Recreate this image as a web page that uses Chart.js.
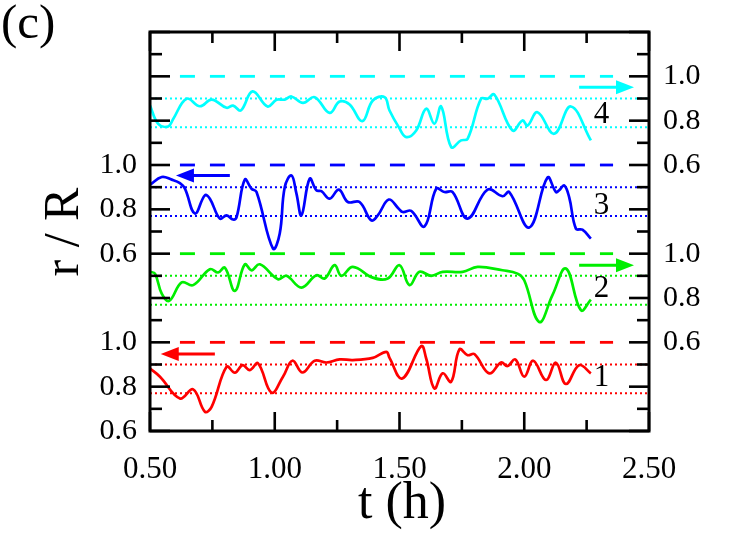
<!DOCTYPE html>
<html><head><meta charset="utf-8">
<script src="https://cdn.jsdelivr.net/npm/chart.js@4.4.0/dist/chart.umd.min.js"></script>
<style>html,body{margin:0;padding:0;background:#fff;}canvas{display:block;}</style>
</head><body>
<canvas id="c" width="740" height="542"></canvas>
<script>
// ---- data (t in hours, r/R values) ----
const redT = [0.500,0.540,0.620,0.673,0.720,0.747,0.807,0.840,0.871,0.900,0.933,0.987,1.033,1.071,1.111,1.160,1.207,1.260,1.313,1.393,1.447,1.460,1.511,1.587,1.607,1.640,1.673,1.707,1.740,1.773,1.800,1.860,1.907,1.933,1.964,2.000,2.036,2.087,2.127,2.167,2.220,2.267];
const redV = [0.882,0.845,0.747,0.788,0.687,0.709,0.890,0.863,0.897,0.875,0.905,0.773,0.845,0.917,0.864,0.917,0.909,0.923,0.920,0.930,0.957,0.930,0.837,0.983,0.927,0.792,0.860,0.822,0.968,0.942,0.947,0.860,0.909,0.893,0.923,0.845,0.917,0.830,0.908,0.812,0.897,0.860];

const greenT = [0.500,0.520,0.547,0.577,0.627,0.673,0.740,0.773,0.800,0.840,0.880,0.907,0.940,1.013,1.047,1.107,1.167,1.200,1.240,1.267,1.313,1.393,1.453,1.500,1.540,1.580,1.627,1.673,1.753,1.813,1.913,1.973,2.000,2.060,2.113,2.167,2.227,2.267];
const greenV = [0.918,0.910,0.820,0.787,0.870,0.858,0.930,0.915,0.937,0.832,0.952,0.925,0.952,0.885,0.900,0.847,0.903,0.888,0.948,0.900,0.940,0.892,0.888,0.948,0.858,0.918,0.900,0.918,0.918,0.940,0.925,0.910,0.880,0.692,0.813,0.933,0.745,0.793];

const blueT = [0.500,0.547,0.587,0.620,0.640,0.680,0.720,0.740,0.780,0.807,0.833,0.847,0.880,0.907,0.927,0.993,1.020,1.040,1.067,1.087,1.107,1.140,1.167,1.187,1.220,1.257,1.293,1.340,1.387,1.413,1.457,1.497,1.513,1.547,1.600,1.647,1.680,1.713,1.773,1.853,1.913,1.940,2.020,2.093,2.127,2.140,2.160,2.180,2.207,2.233,2.267];
const blueV = [0.911,0.946,0.934,0.918,0.893,0.781,0.863,0.848,0.758,0.773,0.754,0.765,0.934,0.893,0.878,0.623,0.691,0.900,0.953,0.871,0.773,0.938,0.886,0.882,0.848,0.889,0.833,0.833,0.750,0.773,0.844,0.803,0.788,0.793,0.723,0.893,0.878,0.878,0.758,0.889,0.859,0.878,0.718,0.943,0.878,0.886,0.908,0.855,0.713,0.708,0.668];

const cyanT = [0.500,0.533,0.573,0.593,0.647,0.700,0.747,0.807,0.833,0.864,0.911,0.971,1.007,1.040,1.067,1.113,1.160,1.220,1.260,1.300,1.351,1.393,1.440,1.460,1.497,1.527,1.567,1.607,1.640,1.667,1.707,1.747,1.773,1.827,1.853,1.880,1.953,1.993,2.013,2.053,2.120,2.187,2.267];
const cyanV = [0.868,0.786,0.774,0.808,0.899,0.865,0.895,0.858,0.868,0.846,0.932,0.864,0.894,0.895,0.909,0.880,0.906,0.835,0.886,0.873,0.798,0.891,0.906,0.846,0.771,0.726,0.756,0.854,0.786,0.864,0.681,0.711,0.718,0.899,0.899,0.918,0.756,0.801,0.778,0.838,0.741,0.864,0.711];

const seriesNames = ['1','2','3','4'];
const xTickLabels = ['0.50','1.00','1.50','2.00','2.50'];
const leftTickLabels  = ['0.6','0.8','1.0','0.6','0.8','1.0'];
const rightTickLabels = ['0.6','0.8','1.0','0.6','0.8','1.0'];
const refDashedLevel = 1.0;
const refDottedLevels = [0.9, 0.77];
const arrowLevel = [0.947, 0.948, 0.953, 0.951];
const nameLevel = [0.839, 0.840, 0.814, 0.828];

// ---- layout / style config ----
const offsets = [-0.6, -0.2, 0.2, 0.6];        // stacking shift of each trace on the common axis
const colors = ['#ff0000', '#00ee00', '#0000ff', '#00ffff'];
const arrowDir = [-1, 1, -1, 1];                // -1 : points to left axis, 1 : right axis
const leftTickPos = [0, 2, 4, 8, 10, 12];       // tick index (0.1 steps)
const rightTickPos = [4, 6, 8, 12, 14, 16];
const FONT = "'Liberation Serif','Times New Roman',serif";

const series = [[redT, redV], [greenT, greenV], [blueT, blueV], [cyanT, cyanV]];
const datasets = [];
series.forEach(([T, V], i) => {
  datasets.push({
    data: T.map((t, k) => ({x: t, y: V[k] + offsets[i]})),
    borderColor: colors[i], borderWidth: 2.7, pointRadius: 0, tension: 0.4, order: 0, fill: false
  });
  datasets.push({
    data: [{x: 0.62, y: refDashedLevel + offsets[i]}, {x: 2.356, y: refDashedLevel + offsets[i]}],
    borderColor: colors[i], borderWidth: 2.8, borderDash: [15, 15], pointRadius: 0, order: 1
  });
  refDottedLevels.forEach(l => datasets.push({
    data: [{x: 0.5, y: l + offsets[i]}, {x: 2.5, y: l + offsets[i]}],
    borderColor: colors[i], borderWidth: 2, borderDash: [2, 3], pointRadius: 0, order: 1
  }));
});

const deco = {
  id: 'deco',
  afterDraw(chart) {
    const {ctx, chartArea: a, scales: {x, y}} = chart;
    const line = (x0, y0, x1, y1) => { ctx.beginPath(); ctx.moveTo(x0, y0); ctx.lineTo(x1, y1); ctx.stroke(); };
    ctx.save();
    ctx.strokeStyle = '#000'; ctx.lineWidth = 2.6; ctx.lineCap = 'butt';
    x.ticks.forEach(tk => {
      const px = x.getPixelForValue(tk.value);
      const major = Math.abs(tk.value * 2 - Math.round(tk.value * 2)) < 1e-6;
      const L = major ? 19 : 11;
      line(px, a.bottom, px, a.bottom - L); line(px, a.top, px, a.top + L);
    });
    y.ticks.forEach(tk => {
      const py = y.getPixelForValue(tk.value);
      const idx = Math.round(tk.value * 10);
      const L = idx % 2 === 0 ? 20 : 12;
      line(a.left, py, a.left + L, py); line(a.right, py, a.right - L, py);
    });
    ctx.lineWidth = 3;
    ctx.strokeRect(a.left, a.top, a.right - a.left, a.bottom - a.top);

    // arrows
    series.forEach((s, i) => {
      const py = y.getPixelForValue(arrowLevel[i] + offsets[i]);
      let xa, xb;
      if (arrowDir[i] < 0) { xa = x.getPixelForValue(0.76); xb = x.getPixelForValue(0.543); }
      else { xa = x.getPixelForValue(2.22); xb = x.getPixelForValue(2.44); }
      if (i === 2) { xa = x.getPixelForValue(0.82); xb = x.getPixelForValue(0.604); }
      const d = arrowDir[i];
      ctx.strokeStyle = colors[i]; ctx.fillStyle = colors[i]; ctx.lineWidth = 3;
      line(xa, py, xb - d * 12, py);
      ctx.beginPath(); ctx.moveTo(xb, py); ctx.lineTo(xb - d * 18, py - 7); ctx.lineTo(xb - d * 18, py + 7); ctx.closePath(); ctx.fill();
    });

    // series numbers
    ctx.fillStyle = '#000'; ctx.font = '31px ' + FONT; ctx.textAlign = 'center'; ctx.textBaseline = 'middle';
    seriesNames.forEach((n, i) => ctx.fillText(n, x.getPixelForValue(2.31), y.getPixelForValue(nameLevel[i] + offsets[i])));

    // panel label and axis titles
    ctx.textAlign = 'left'; ctx.textBaseline = 'alphabetic'; ctx.font = '49px ' + FONT;
    ctx.fillText('(c)', 1, 38);
    ctx.font = '52px ' + FONT; ctx.textAlign = 'center';
    ctx.fillText('t (h)', 402, 518);
    ctx.font = '50px ' + FONT;
    ctx.save(); ctx.translate(78, 232); ctx.rotate(-Math.PI / 2);
    ctx.fillText('r / R', 0, 0); ctx.restore();
    ctx.restore();
  }
};

new Chart(document.getElementById('c'), {
  type: 'line',
  data: {datasets},
  options: {
    responsive: false, animation: false, devicePixelRatio: 1,
    layout: {padding: {top: 32, left: 0, right: 0, bottom: 0}},
    plugins: {legend: {display: false}, tooltip: {enabled: false}},
    scales: {
      x: {
        type: 'linear', position: 'bottom', min: 0.5, max: 2.5,
        grid: {display: false, drawTicks: false}, border: {display: false},
        ticks: {
          stepSize: 0.25, autoSkip: false, maxRotation: 0, padding: 20, color: '#000',
          font: {family: FONT, size: 31},
          callback: v => { const k = Math.round((v - 0.5) * 2); return Math.abs((v - 0.5) * 2 - k) < 1e-6 ? xTickLabels[k] : ''; }
        },
        afterFit: s => { s.height = 111; }
      },
      y: {
        type: 'linear', position: 'left', min: 0, max: 1.8,
        grid: {display: false, drawTicks: false}, border: {display: false},
        ticks: {
          stepSize: 0.1, autoSkip: false, padding: 13, color: '#000', font: {family: FONT, size: 30},
          callback: v => { const k = leftTickPos.indexOf(Math.round(v * 10)); return k >= 0 ? leftTickLabels[k] : ''; }
        },
        afterFit: s => { s.width = 150; }
      },
      y2: {
        type: 'linear', position: 'right', min: 0, max: 1.8, display: true,
        grid: {display: false, drawTicks: false}, border: {display: false},
        ticks: {
          stepSize: 0.1, autoSkip: false, padding: 14, color: '#000', font: {family: FONT, size: 30},
          callback: v => { const k = rightTickPos.indexOf(Math.round(v * 10)); return k >= 0 ? rightTickLabels[k] : ''; }
        },
        afterFit: s => { s.width = 91; }
      }
    }
  },
  plugins: [deco]
});
</script>
</body></html>
